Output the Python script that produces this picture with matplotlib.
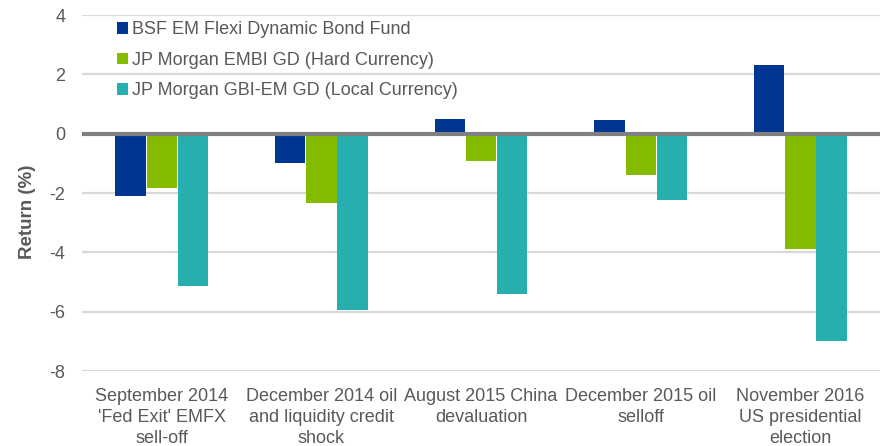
import numpy as np
import matplotlib.pyplot as plt

plt.rcParams['font.family'] = ['Liberation Sans', 'DejaVu Sans']
plt.rcParams['axes.unicode_minus'] = False

categories = ["September 2014\n'Fed Exit' EMFX\nsell-off",
              "December 2014 oil\nand liquidity credit\nshock",
              "August 2015 China\ndevaluation",
              "December 2015 oil\nselloff",
              "November 2016\nUS presidential\nelection"]
series_names = ["BSF EM Flexi Dynamic Bond Fund",
                "JP Morgan EMBI GD (Hard Currency)",
                "JP Morgan GBI-EM GD (Local Currency)"]
bsf = [-2.1, -0.98, 0.5, 0.47, 2.32]
embi = [-1.82, -2.32, -0.91, -1.38, -3.87]
gbi = [-5.12, -5.93, -5.39, -2.22, -6.97]
colors = ['#003591', '#84BA00', '#27AFAF']

fig = plt.figure(figsize=(8.9, 4.46), dpi=100)
ax = fig.add_axes([0.092, 0.168, 0.897, 0.798])

x = np.arange(len(categories))
w = 0.19
for i, (vals, name) in enumerate(zip([bsf, embi, gbi], series_names)):
    ax.bar(x + (i - 1) * 0.195, vals, w, color=colors[i], label=name, zorder=2)

ax.set_ylim(-8, 4)
ax.set_xlim(-0.5, len(categories) - 0.5)
ax.set_yticks(range(-8, 5, 2))
ax.yaxis.grid(True, color='#d9d9d9', linewidth=1.6, zorder=0)
ax.axhline(0, color='#808080', linewidth=3, zorder=3)
ax.set_xticks(x)
ax.set_xticklabels(categories, fontsize=13, color='#595959', linespacing=1.3)
ax.tick_params(axis='both', length=0, labelcolor='#595959', labelsize=13)
ax.tick_params(axis='x', pad=12)
ax.tick_params(axis='y', pad=12)
for s in ax.spines.values():
    s.set_visible(False)
ax.set_ylabel('Return (%)', fontsize=13.5, fontweight='bold', color='#595959')
ax.yaxis.set_label_coords(-0.058, 0.447)

leg = ax.legend(loc='upper left', bbox_to_anchor=(0.044, 0.983), frameon=False,
                fontsize=13, handlelength=0.6, handleheight=0.6,
                handletextpad=0.25, labelspacing=0.75, borderaxespad=0,
                borderpad=0)
for t in leg.get_texts():
    t.set_color('#595959')

fig.savefig('out.png', dpi=100)
